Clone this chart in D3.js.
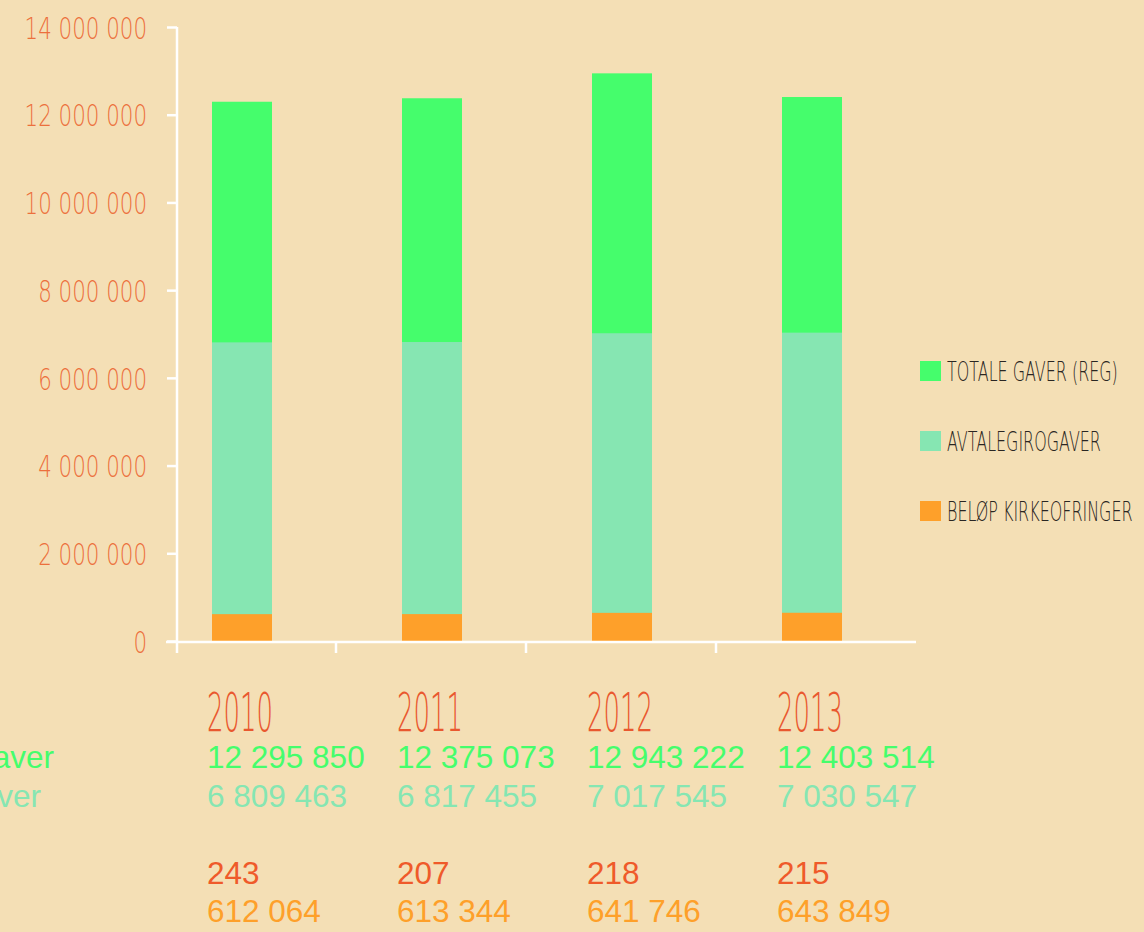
<!DOCTYPE html>
<html>
<head>
<meta charset="utf-8">
<script src="https://cdn.jsdelivr.net/npm/d3@7"></script>
<style>
  html, body { margin: 0; padding: 0; background: #f4dfb5; }
  svg { display: block; }
</style>
</head>
<body>
<div id="wrapper"></div>
<script>
// data
const years = ["2010", "2011", "2012", "2013"];
const totaleGaver = [12295850, 12375073, 12943222, 12403514];
const avtalegiro = [6809463, 6817455, 7017545, 7030547];
const antallOfringer = [243, 207, 218, 215];
const belopKirkeofringer = [612064, 613344, 641746, 643849];
const yTicks = [0, 2000000, 4000000, 6000000, 8000000, 10000000, 12000000, 14000000];
const legendLabels = ["TOTALE GAVER (REG)", "AVTALEGIROGAVER", "BELØP KIRKEOFRINGER"];
const rowLabels = ["Totale gaver", "Avtalegirogaver"];

const colors = {
  total: "#45fd6c",
  avtale: "#86e6b2",
  kirke: "#fea02a",
  tick: "#ec6f3c",
  year: "#e9582f",
  count: "#ef5a2a",
  legendText: "#2a2622",
};

function drawChart() {
  const width = 1144;
  const height = 932;

  const svg = d3.select("#wrapper")
    .append("svg")
    .attr("width", width)
    .attr("height", height);

  svg.append("rect")
    .attr("width", width)
    .attr("height", height)
    .attr("fill", "#f4dfb5");

  // scales
  const xScale = d3.scaleBand()
    .domain(years)
    .range([147, 907])
    .padding(0);
  const barWidth = 60;
  const barOffset = (xScale.bandwidth() - barWidth) / 2;

  const yScale = d3.scaleLinear()
    .domain([0, 14000000])
    .range([641, 27]);

  const nb = d3.formatLocale({ decimal: ",", thousands: " ", grouping: [3], currency: ["", ""] });
  const fmt = nb.format(",d");

  // squeeze text horizontally to imitate the narrow hand-drawn font
  function squeeze(sel, factor) {
    sel.each(function () {
      const w = this.getComputedTextLength();
      this.setAttribute("lengthAdjust", "spacingAndGlyphs");
      this.setAttribute("textLength", w * factor);
    });
  }

  // bars (overlapping, each from zero)
  const series = [
    { values: totaleGaver, color: colors.total },
    { values: avtalegiro, color: colors.avtale },
    { values: belopKirkeofringer, color: colors.kirke },
  ];
  series.forEach((s) => {
    svg.append("g")
      .selectAll("rect")
      .data(years)
      .join("rect")
      .attr("x", (d) => xScale(d) + barOffset)
      .attr("width", barWidth)
      .attr("y", (d, i) => yScale(s.values[i]))
      .attr("height", (d, i) => yScale(0) - yScale(s.values[i]))
      .attr("fill", s.color);
  });

  // y axis
  const yAxis = svg.append("g")
    .attr("transform", "translate(177,0)")
    .call(d3.axisLeft(yScale).tickValues(yTicks).tickFormat(fmt).tickSize(10).tickSizeOuter(0));
  yAxis.select(".domain").remove();
  yAxis.selectAll(".tick line").attr("stroke", "#ffffff").attr("stroke-width", 2.5);
  yAxis.selectAll(".tick text")
    .attr("x", -30)
    .attr("dy", "0.36em")
    .attr("fill", colors.tick)
    .style("font-family", "'DejaVu Sans', sans-serif")
    .style("font-weight", 200)
    .style("font-size", "31px")
    .call(squeeze, 0.69);
  svg.append("line")
    .attr("x1", 177).attr("x2", 177)
    .attr("y1", yScale(14000000)).attr("y2", 653)
    .attr("stroke", "#ffffff").attr("stroke-width", 2.5);

  // x axis
  svg.append("line")
    .attr("x1", 166).attr("x2", 916)
    .attr("y1", yScale(0) + 1).attr("y2", yScale(0) + 1)
    .attr("stroke", "#ffffff").attr("stroke-width", 2.5);
  svg.append("g")
    .selectAll("line")
    .data(years.slice(1))
    .join("line")
    .attr("x1", (d) => xScale(d) - 1)
    .attr("x2", (d) => xScale(d) - 1)
    .attr("y1", yScale(0))
    .attr("y2", 653)
    .attr("stroke", "#ffffff").attr("stroke-width", 2.5);

  // legend
  const legendColors = [colors.total, colors.avtale, colors.kirke];
  const legend = svg.append("g")
    .selectAll("g")
    .data(legendLabels)
    .join("g")
    .attr("transform", (d, i) => `translate(920,${361 + i * 70})`);
  legend.append("rect")
    .attr("width", 21)
    .attr("height", 20)
    .attr("fill", (d, i) => legendColors[i]);
  legend.append("text")
    .attr("transform", "translate(27,19.5) scale(0.59,1)")
    .attr("fill", colors.legendText)
    .style("font-family", "'DejaVu Sans', sans-serif")
    .style("font-weight", 200)
    .style("font-size", "27px")
    .text((d) => d);

  // table below the chart
  const table = svg.append("g");
  const colX = (d) => xScale(d) + xScale.bandwidth() / 2 - 35;

  table.selectAll(".year")
    .data(years)
    .join("text")
    .attr("class", "year")
    .attr("transform", (d) => `translate(${colX(d)},731) scale(0.48,1)`)
    .attr("fill", colors.year)
    .style("font-family", "'DejaVu Sans', sans-serif")
    .style("font-weight", 200)
    .style("font-size", "54px")
    .text((d) => d);

  const rows = [
    { values: totaleGaver, color: colors.total, y: 768 },
    { values: avtalegiro, color: colors.avtale, y: 807 },
    { values: antallOfringer, color: colors.count, y: 884 },
    { values: belopKirkeofringer, color: colors.kirke, y: 922 },
  ];
  rows.forEach((r) => {
    table.append("g")
      .selectAll("text")
      .data(years)
      .join("text")
      .attr("x", colX)
      .attr("y", r.y)
      .attr("fill", r.color)
      .style("font-family", "'Liberation Sans', Arial, sans-serif")
      .style("font-size", "31.5px")
      .text((d, i) => fmt(r.values[i]));
  });

  // row labels, cut off at the left edge
  table.selectAll(".rowlabel")
    .data(rowLabels)
    .join("text")
    .attr("class", "rowlabel")
    .attr("x", (d, i) => (i === 0 ? 54 : 41))
    .attr("y", (d, i) => rows[i].y)
    .attr("text-anchor", "end")
    .attr("fill", (d, i) => rows[i].color)
    .style("font-family", "'Liberation Sans', Arial, sans-serif")
    .style("font-size", "31.5px")
    .text((d) => d);
}

drawChart();
</script>
</body>
</html>
